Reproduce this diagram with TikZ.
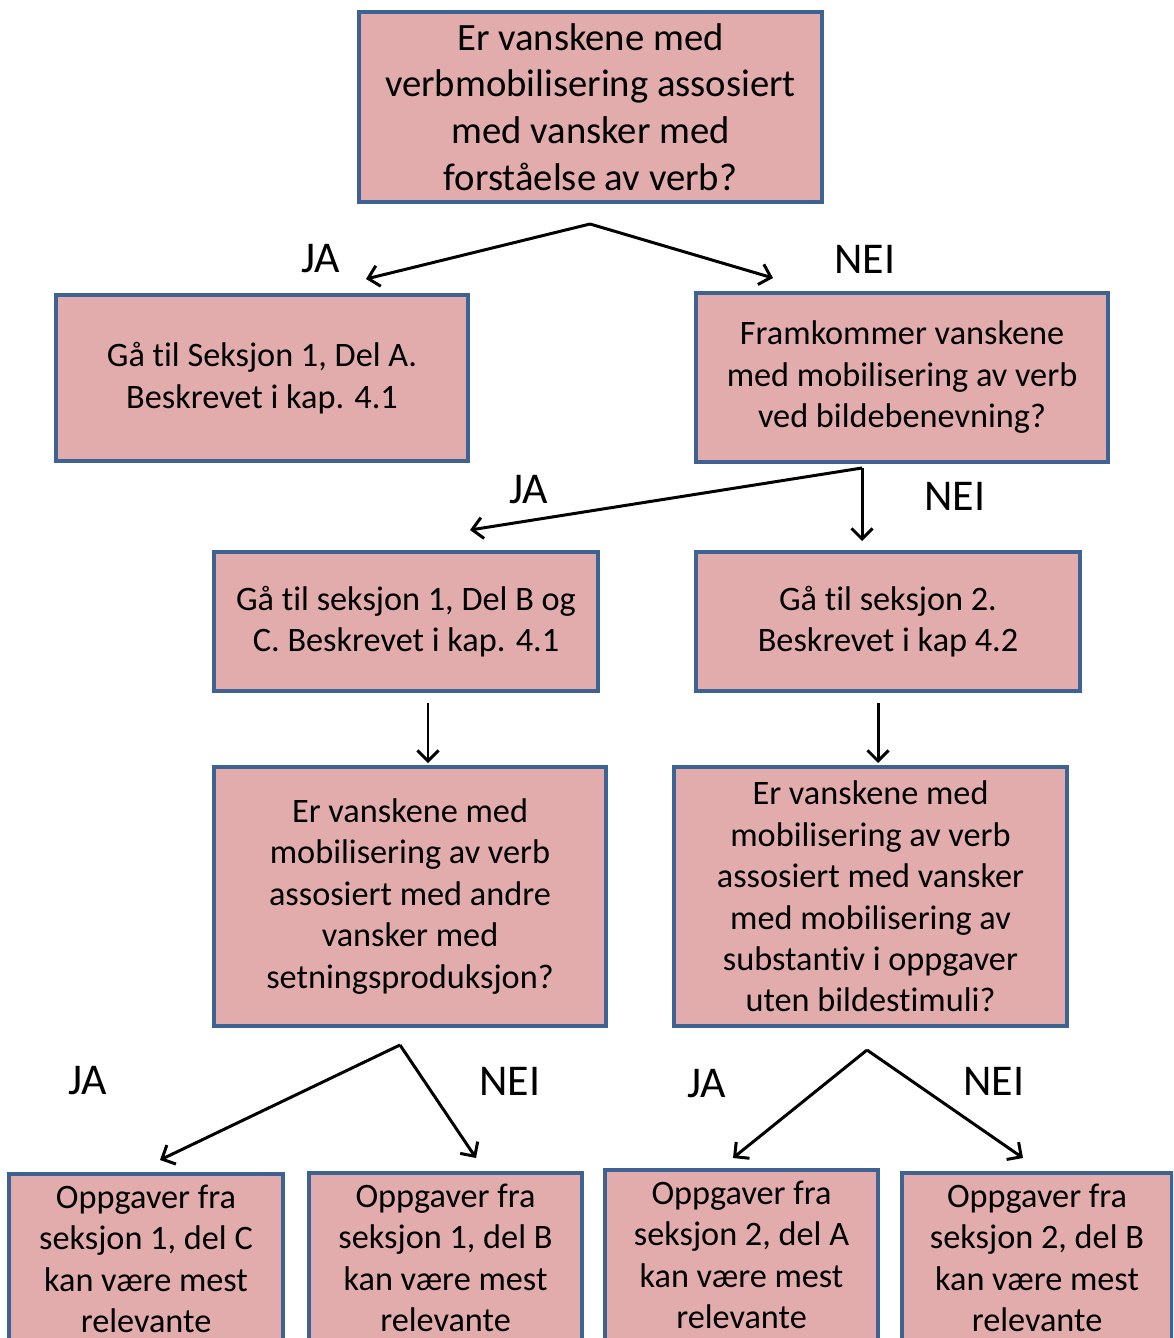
\documentclass[tikz,border=0pt]{standalone}
\usepackage{fontspec}
\setmainfont{Carlito}[Ligatures={NoCommon}]
\usepackage{xcolor}
\usepackage{tikz}
\usetikzlibrary{arrows.meta}

\definecolor{boxfill}{RGB}{226,172,172}
\definecolor{boxline}{RGB}{62,98,145}

\tikzset{
  box/.style={draw=boxline,fill=boxfill,line width=2.3pt,align=center,inner sep=0pt,
    font=\fontsize{19.5}{23.6}\selectfont},
  answer/.style={font=\fontsize{25}{30}\selectfont,inner sep=0pt},
}

\begin{document}
\begin{tikzpicture}[x=0.02cm,y=-0.02cm]
    \path[clip,use as bounding box] (0,0) rectangle (1173,1338);
    \begin{scope}[every node/.style={box}]
    \node[minimum width=9.26cm,minimum height=3.8cm,font=\fontsize{22}{26.6}\selectfont] (q1) at (590.5,107)
      {Er vanskene med\\verbmobilisering assosiert\\med vansker med\\forståelse av verb?};
    \node[minimum width=8.24cm,minimum height=3.32cm] (g1) at (262,378) {Gå til Seksjon 1, Del A.\\Beskrevet i kap. 4.1};
    \node[minimum width=8.24cm,minimum height=3.38cm] (q2) at (902,377.5) {Framkommer vanskene\\med mobilisering av verb\\ved bildebenevning?};
    \node[minimum width=7.68cm,minimum height=2.78cm] (g2) at (406,621.5) {Gå til seksjon 1, Del B og\\C. Beskrevet i kap. 4.1};
    \node[minimum width=7.68cm,minimum height=2.78cm] (g3) at (888,621.5) {Gå til seksjon 2.\\Beskrevet i kap 4.2};
    \node[minimum width=7.84cm,minimum height=5.18cm] (q3) at (410,896.5)
      {Er vanskene med\\mobilisering av verb\\assosiert med andre\\vansker med\\setningsproduksjon?};
    \node[minimum width=7.86cm,minimum height=5.18cm] (q4) at (870.5,896.5)
      {Er vanskene med\\mobilisering av verb\\assosiert med vansker\\med mobilisering av\\substantiv i oppgaver\\uten bildestimuli?};
    \node[minimum width=5.48cm,minimum height=3.4cm] (r1) at (146,1259) {Oppgaver fra\\seksjon 1, del C\\kan være mest\\relevante};
    \node[minimum width=5.46cm,minimum height=3.4cm] (r2) at (445.5,1258) {Oppgaver fra\\seksjon 1, del B\\kan være mest\\relevante};
    \node[minimum width=5.46cm,minimum height=3.4cm] (r3) at (741.5,1255) {Oppgaver fra\\seksjon 2, del A\\kan være mest\\relevante};
    \node[minimum width=5.4cm,minimum height=3.4cm] (r4) at (1037,1258) {Oppgaver fra\\seksjon 2, del B\\kan være mest\\relevante};
    \end{scope}
    % answers
    \begin{scope}[every node/.style={answer}]
    \node (ja1) at (321,259) {JA};
    \node (nei1) at (865,259) {NEI};
    \node (ja2) at (529,490) {JA};
    \node (nei2) at (955,496) {NEI};
    \node (ja3) at (88,1081) {JA};
    \node (nei3) at (510,1081) {NEI};
    \node (ja4) at (707,1084) {JA};
    \node (nei4) at (994,1081) {NEI};
    \end{scope}
    % arrow ends
    \coordinate (s1) at (590,224); \coordinate (e1) at (366,279); \coordinate (e2) at (773,278);
    \coordinate (s2) at (862,468); \coordinate (e3) at (470,530); \coordinate (e4) at (862,541);
    \coordinate (s3) at (428,703); \coordinate (e5) at (428,763);
    \coordinate (s4) at (878,703); \coordinate (e6) at (878,763);
    \coordinate (s5) at (400,1045); \coordinate (e7) at (160,1160); \coordinate (e8) at (476,1158);
    \coordinate (s6) at (867,1050); \coordinate (e9) at (733,1158); \coordinate (e10) at (1023,1158);
    \begin{scope}[every edge/.style={draw=black,line width=1.7pt,-{Straight Barb[length=6pt,width=12pt]}}]
    \path (s1) edge (e1);
    \path (s1) edge (e2);
    \path (s2) edge (e3);
    \path (s2) edge (e4);
    \path (s3) edge (e5);
    \path (s4) edge (e6);
    \path (s5) edge (e7);
    \path (s5) edge (e8);
    \path (s6) edge (e9);
    \path (s6) edge (e10);
    \end{scope}
\end{tikzpicture}
\end{document}
